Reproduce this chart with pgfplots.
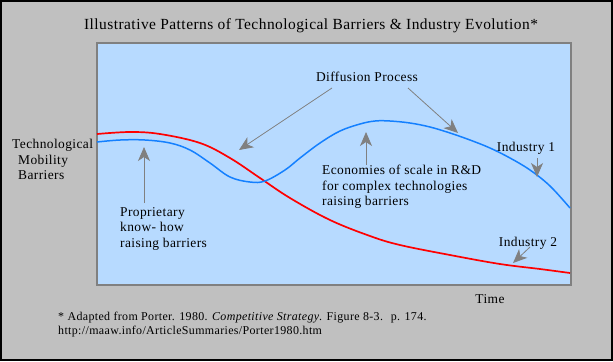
\documentclass[border=0pt]{standalone}
\usepackage{pgfplots}
\pgfplotsset{compat=1.18}
\usepackage{fontspec}
\setmainfont[LetterSpace=3]{Liberation Serif}
\usetikzlibrary{arrows.meta}
\definecolor{bg}{RGB}{192,192,192}
\definecolor{plotbg}{RGB}{183,218,255}
\definecolor{arr}{RGB}{128,128,128}
\definecolor{blueline}{RGB}{20,128,255}
\begin{document}
\begin{tikzpicture}[x=1bp,y=1bp]
\fill[bg] (0,0) rectangle (613,-361);
\draw[black, line width=2bp] (1,-1) rectangle (612,-360);
\tikzset{lbl/.style={anchor=base west, inner sep=0pt, font=\fontsize{13.5}{15}\selectfont},
  ar/.style={draw=arr, line width=0.8bp, -{Stealth[length=14bp,width=12bp,inset=4bp]}}}
\node[lbl, anchor=base, font=\fontsize{15.5}{17}\selectfont] at (311,-29) {Illustrative Patterns of Technological Barriers \& Industry Evolution*};
\node[lbl] at (12,-148) {Technological};
\node[lbl] at (18,-164) {Mobility};
\node[lbl] at (18,-179) {Barriers};
\node[lbl, anchor=base] at (490,-303) {Time};
\node[lbl, font=\fontsize{12}{14}\selectfont] at (58,-320) {* Adapted from Porter. 1980. \textit{Competitive Strategy}. Figure 8-3. \ p. 174.};
\node[lbl, font=\fontsize{12}{14}\selectfont] at (58,-334) {http://maaw.info/ArticleSummaries/Porter1980.htm};
\begin{axis}[at={(97bp,-285bp)}, anchor=south west, width=474bp, height=242bp,
  scale only axis, xmin=97, xmax=571, ymin=-285, ymax=-43,
  axis line style={draw=arr, line width=1.5bp},
  axis background/.style={fill=plotbg},
  xtick=\empty, ytick=\empty, clip=false]
\addplot[red, line width=1.7bp, smooth, tension=0.6] coordinates {
(97,-134) (130,-132) (160,-134) (200,-143) (230,-158) (260,-178) (290,-198)
(330,-220) (370,-236) (400,-245) (450,-255) (500,-264) (540,-269) (570,-273)};
\addplot[blueline, line width=1.5bp, smooth, tension=0.6] coordinates {
(97,-142) (120,-140) (145,-140) (170,-143) (190,-150) (210,-163) (230,-177)
(250,-182) (265,-181) (285,-170) (300,-158) (320,-143) (340,-131) (360,-124)
(375,-121) (390,-121) (410,-123) (430,-127) (450,-133) (470,-140) (490,-148)
(510,-158) (530,-170) (550,-186) (570,-208)};
\draw[ar] (axis cs:144,-203) -- (axis cs:144,-147);
\draw[ar] (axis cs:332,-88) -- (axis cs:239,-150);
\draw[ar] (axis cs:408,-88) -- (axis cs:458,-133);
\draw[ar] (axis cs:366,-165) -- (axis cs:366,-132);
\draw[ar] (axis cs:537,-158) -- (axis cs:537,-177);
\draw[ar] (axis cs:530,-247) -- (axis cs:513,-263);
\node[lbl, anchor=base] at (axis cs:367,-81) {Diffusion Process};
\node[lbl] at (axis cs:120,-216) {Proprietary};
\node[lbl] at (axis cs:120,-231) {know- how};
\node[lbl] at (axis cs:120,-247) {raising barriers};
\node[lbl] at (axis cs:322,-174) {Economies of scale in R\&D};
\node[lbl] at (axis cs:322,-190) {for complex technologies};
\node[lbl] at (axis cs:322,-205) {raising barriers};
\node[lbl, anchor=base] at (axis cs:526,-151) {Industry 1};
\node[lbl, anchor=base] at (axis cs:528,-246) {Industry 2};
\end{axis}
\end{tikzpicture}
\end{document}
